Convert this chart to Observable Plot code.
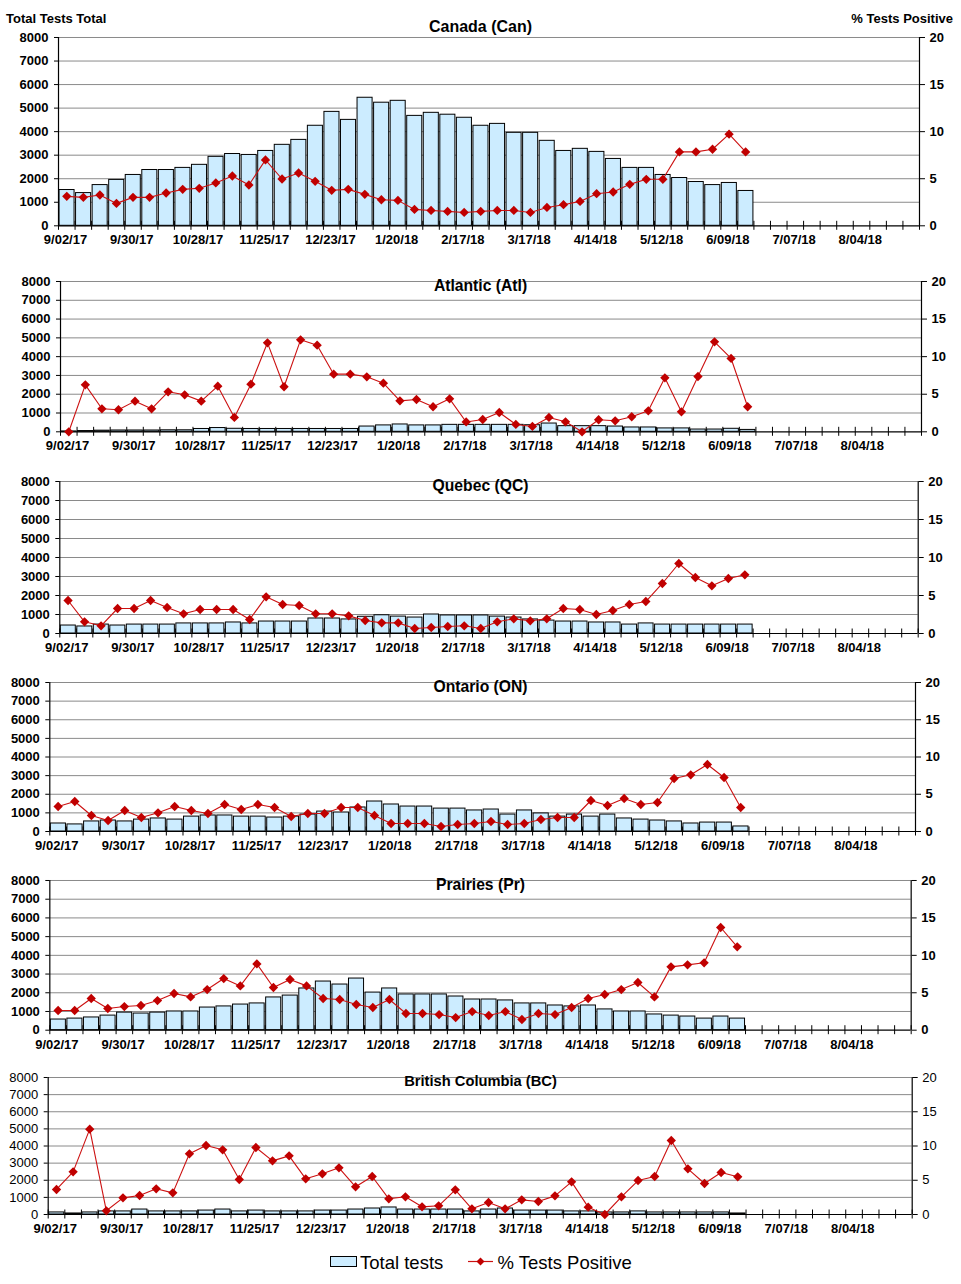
<!DOCTYPE html>
<html><head><meta charset="utf-8">
<script src="https://cdn.jsdelivr.net/npm/d3@7"></script>
<script src="https://cdn.jsdelivr.net/npm/@observablehq/plot@0.6"></script>
<style>
html,body{margin:0;padding:0;background:#fff;overflow:hidden;}
#wrap{position:relative;width:961px;height:1284px;font-family:"Liberation Sans",Arial,sans-serif;}
.panel{position:absolute;left:0;}
.hdr{position:absolute;font-weight:bold;font-size:13px;line-height:13px;white-space:nowrap;}
#legend{position:absolute;top:1250px;left:0;width:961px;height:24px;}
</style></head><body><div id="wrap"></div>
<script>
// ---- data ----
const nWeeks = 52;
const tickLabels = ["9/02/17","9/30/17","10/28/17","11/25/17","12/23/17","1/20/18","2/17/18","3/17/18","4/14/18","5/12/18","6/09/18","7/07/18","8/04/18"];
const leftTicks = [0,1000,2000,3000,4000,5000,6000,7000,8000];
const rightTicks = [0,5,10,15,20];

const canTests = [1520,1390,1730,1950,2160,2370,2370,2460,2590,2930,3050,3010,3180,3440,3650,4250,4840,4500,5440,5230,5310,4670,4800,4720,4590,4250,4330,3950,3950,3610,3180,3270,3140,2840,2460,2460,2160,2030,1860,1730,1820,1480];
const canPct = [3.13,3.02,3.27,2.38,3.02,3.02,3.48,3.87,3.98,4.55,5.29,4.33,7.0,4.97,5.61,4.72,3.77,3.87,3.34,2.77,2.70,1.74,1.63,1.53,1.42,1.53,1.63,1.63,1.42,1.95,2.24,2.59,3.41,3.59,4.40,4.94,4.94,7.85,7.85,8.13,9.73,7.85];

const atlTests = [20,40,60,70,70,70,80,80,150,200,160,150,150,150,150,150,150,150,280,340,390,340,340,370,370,370,370,370,350,440,300,300,300,280,230,230,180,180,120,120,160,100];
const atlPct = [0,6.25,3.06,2.93,4.08,3.06,5.32,4.92,4.08,6.07,1.91,6.34,11.84,5.99,12.24,11.53,7.67,7.67,7.32,6.47,4.12,4.30,3.33,4.39,1.31,1.64,2.57,0.98,0.71,1.91,1.33,0,1.60,1.46,2.0,2.79,7.18,2.66,7.36,11.97,9.76,3.33];

const qcTests = [420,370,470,420,470,470,470,530,530,530,580,530,630,630,630,790,790,740,880,960,890,840,1000,950,950,950,890,840,740,680,630,630,580,580,470,530,470,470,470,470,470,470];
const qcPct = [4.34,1.54,1.01,3.29,3.29,4.34,3.42,2.59,3.16,3.16,3.16,1.84,4.82,3.82,3.68,2.59,2.59,2.32,1.71,1.40,1.40,0.66,0.79,0.92,1.01,0.66,1.54,1.93,1.67,1.93,3.29,3.16,2.50,3.03,3.82,4.21,6.58,9.21,7.37,6.27,7.24,7.72];

const onTests = [430,380,540,590,540,640,700,640,800,860,860,800,800,750,800,910,1070,1020,1290,1610,1450,1340,1340,1230,1230,1130,1180,910,1130,970,800,910,800,910,700,640,590,540,430,480,480,270];
const onPct = [3.36,4.03,2.15,1.48,2.82,1.88,2.51,3.36,2.82,2.42,3.62,2.95,3.62,3.22,2.01,2.42,2.42,3.22,3.22,2.15,1.07,1.07,1.07,0.67,0.94,1.07,1.34,0.94,1.07,1.61,1.88,1.88,4.16,3.49,4.43,3.62,3.89,7.11,7.61,8.99,7.25,3.22];

const prTests = [570,620,680,780,940,890,940,1000,1000,1210,1270,1370,1430,1750,1850,2230,2600,2440,2760,2010,2230,1910,1910,1910,1800,1640,1640,1590,1430,1430,1320,1270,1320,1110,1000,1000,840,780,730,620,730,620];
const prPct = [2.63,2.63,4.23,2.90,3.16,3.30,3.96,4.90,4.45,5.43,6.90,5.92,8.86,5.70,6.77,5.92,4.23,4.10,3.43,3.03,4.10,2.23,2.23,2.09,1.69,2.49,1.96,2.49,1.43,2.23,2.09,3.03,4.23,4.77,5.43,6.37,4.45,8.46,8.73,9.0,13.72,11.14];

const bcTests = [120,60,120,180,180,290,180,180,180,230,290,180,230,180,180,180,230,230,290,350,410,290,290,290,290,180,290,350,230,230,230,180,180,120,120,180,120,120,120,120,120,60];
const bcPct = [3.65,6.23,12.46,0.54,2.43,2.77,3.75,3.16,8.86,10.07,9.44,5.11,9.78,7.83,8.56,5.21,5.94,6.81,4.04,5.55,2.29,2.58,1.12,1.27,3.60,0.83,1.75,0.83,2.14,1.90,2.72,4.77,1.07,0,2.58,4.96,5.55,10.80,6.67,4.53,6.13,5.50];

// ---- layout (pixel frames of each panel) ----
const panels = [
  {title:"Canada (Can)", tests:canTests, pct:canPct, left:58, right:919, top:36.7, bottom:225, titleDy:-10.7, titleSize:16, yWeight:"bold"},
  {title:"Atlantic (Atl)", tests:atlTests, pct:atlPct, left:60, right:921, top:281, bottom:431.3, titleDy:4.7, titleSize:15.7, yWeight:"bold"},
  {title:"Quebec (QC)", tests:qcTests, pct:qcPct, left:59.3, right:917.7, top:481.3, bottom:633.3, titleDy:4.4, titleSize:15.7, yWeight:"bold"},
  {title:"Ontario (ON)", tests:onTests, pct:onPct, left:49.3, right:915, top:682.3, bottom:831.3, titleDy:4.4, titleSize:15.7, yWeight:"bold"},
  {title:"Prairies (Pr)", tests:prTests, pct:prPct, left:49.3, right:910.7, top:880.3, bottom:1030, titleDy:4.7, titleSize:15.7, yWeight:"bold"},
  {title:"British Columbia (BC)", tests:bcTests, pct:bcPct, left:47.7, right:911.7, top:1077.3, bottom:1214.3, titleDy:3.4, titleSize:14.7, yWeight:"normal"}
];

const BAR_FILL = "#CCECFF";
const LINE_COLOR = "#cc1111";
const DOT_COLOR = "#c00000";
const GRID_COLOR = "#8a8a8a";
const pctScale = 8000 / 20;
const W = 961;
const wrap = document.getElementById("wrap");

function makePanel(p) {
  const data = p.tests.map((t, i) => ({i, tests: t, pct: p.pct[i]}));
  const mt = 30, mb = 30;
  const H = p.bottom - p.top;
  const k = 4.5 * 8000 / H; // half-length of the crossing x tick marks in data units
  const chart = Plot.plot({
    width: W,
    height: H + mt + mb,
    marginLeft: p.left,
    marginRight: W - p.right,
    marginTop: mt,
    marginBottom: mb,
    x: {domain: [0, nWeeks], axis: null},
    y: {domain: [0, 8000]},
    style: {fontFamily: "'Liberation Sans', Arial, sans-serif", fontSize: "13px", fontWeight: "bold", background: "transparent", overflow: "visible", color: "black"},
    marks: [
      Plot.ruleY(leftTicks.slice(1), {stroke: GRID_COLOR, strokeWidth: 1}),
      Plot.rectY(data, {x1: "i", x2: d => d.i + 1, y1: 0, y2: "tests", fill: BAR_FILL, stroke: "black", strokeWidth: 1, insetLeft: 1, insetRight: 0.5}),
      Plot.ruleY([0], {stroke: "black", strokeWidth: 1.2}),
      Plot.ruleX([0, nWeeks], {y1: 0, y2: 8000, stroke: "black", strokeWidth: 1.2}),
      Plot.ruleX(d3.range(nWeeks + 1), {y1: -k, y2: k, stroke: "black", strokeWidth: 1}),
      Plot.line(data, {x: d => d.i + 0.5, y: d => d.pct * pctScale, stroke: LINE_COLOR, strokeWidth: 1.1}),
      Plot.dot(data, {x: d => d.i + 0.5, y: d => d.pct * pctScale, symbol: "diamond2", r: 4.2, fill: DOT_COLOR, stroke: "none"}),
      Plot.axisY({anchor: "left", ticks: leftTicks, tickFormat: v => String(v), tickSize: 4, tickPadding: 6, label: null, fontWeight: p.yWeight, fontSize: 13}),
      Plot.axisY({anchor: "right", ticks: rightTicks.map(v => v * pctScale), tickFormat: v => String(v / pctScale), tickSize: 5, tickPadding: 5, label: null, fontWeight: p.yWeight, fontSize: 13}),
      Plot.text(tickLabels, {x: (d, i) => i * 4, text: d => d, frameAnchor: "bottom", dy: 14.5, dx: 7, lineAnchor: "middle", textAnchor: "middle", fontSize: 13, fontWeight: "bold"}),
      Plot.text([p.title], {text: d => d, frameAnchor: "top-left", dx: 480 - p.left, dy: p.titleDy, textAnchor: "middle", lineAnchor: "middle", fontSize: p.titleSize, fontWeight: "bold"})
    ]
  });
  chart.classList.add("panel");
  chart.style.position = "absolute";
  chart.style.top = (p.top - mt) + "px";
  chart.style.left = "0px";
  wrap.appendChild(chart);
}
panels.forEach(makePanel);

// headers
const h1 = document.createElement("div");
h1.className = "hdr"; h1.textContent = "Total Tests Total";
h1.style.left = "6px"; h1.style.top = "12px";
wrap.appendChild(h1);
const h2 = document.createElement("div");
h2.className = "hdr"; h2.textContent = "% Tests Positive";
h2.style.right = (961 - 953) + "px"; h2.style.top = "12px";
wrap.appendChild(h2);

// legend
const legendItems = ["Total tests", "% Tests Positive"];
const leg = d3.select(wrap).append("svg").attr("id", "legend").attr("width", 961).attr("height", 24);
leg.append("rect").attr("x", 330.5).attr("y", 6.5).attr("width", 26).attr("height", 10).attr("fill", BAR_FILL).attr("stroke", "black");
leg.append("text").attr("x", 360).attr("y", 18.5).attr("font-family", "'Liberation Sans', Arial, sans-serif").attr("font-size", 18.5).text(legendItems[0]);
leg.append("line").attr("x1", 468).attr("x2", 493).attr("y1", 11.5).attr("y2", 11.5).attr("stroke", LINE_COLOR).attr("stroke-width", 1.2);
leg.append("path").attr("d", d3.symbol(d3.symbolDiamond2, 40)()).attr("transform", "translate(480.5,11.5)").attr("fill", DOT_COLOR);
leg.append("text").attr("x", 497.5).attr("y", 18.5).attr("font-family", "'Liberation Sans', Arial, sans-serif").attr("font-size", 18.5).text(legendItems[1]);
</script>
</body></html>
